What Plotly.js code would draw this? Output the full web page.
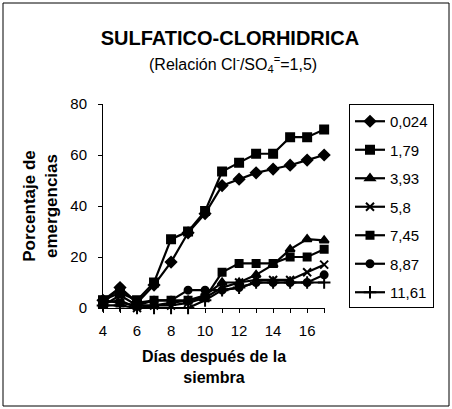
<!DOCTYPE html>
<html>
<head>
<meta charset="utf-8">
<script src="https://cdn.plot.ly/plotly-3.0.1.min.js"></script>
<style>
html,body{margin:0;padding:0;background:#fff;}
#chart{width:452px;height:409px;}
</style>
</head>
<body>
<div id="chart"></div>
<script>
// ---- data ----
const days = [4,5,6,7,8,9,10,11,12,13,14,15,16,17];
const seriesNames = ["0,024","1,79","3,93","5,8","7,45","8,87","11,61"];
const v0024 = [3,8,2,9,18,29.5,37,48,50.5,53,54.5,56,58,60];
const v179  = [3,6,3,10,27,30,38,53.5,57,60.5,60.5,67,67,70];
const v393  = [1,5,1,1,2,3,5,10,10,13,17,23,27,26.5];
const v58   = [2,3,0,1,1,2,4,8,10,11,11,11,14,17];
const v745  = [3,2,1,3,3,3,4,14,17.5,17.5,17.5,20,20,23];
const v887  = [2,8,2,3,3,7,7,7,8,10,10,10,10,13];
const v1161 = [1,1,0,0,0,0,3,7,8,10,10,10,10,10];
const yTicks = [0,20,40,60,80];
const xTicks = [4,6,8,10,12,14,16];

const allValues = [v0024,v179,v393,v58,v745,v887,v1161];
const symbols = ["diamond","square","triangle-up","x-thin","square","circle","cross-thin"];
const msizes = [8,8,8,8,7,7,9];

const FONT = "Arial, 'Liberation Sans', sans-serif";

const traces = allValues.map((vals,i)=>({
  x: days, y: vals, name: seriesNames[i], type:'scatter', mode:'lines+markers',
  legendgroup: 'g'+i,
  line:{color:'#000', width:2.2},
  marker:{symbol:symbols[i], size:msizes[i], color:'#000', line:{color:'#000', width:2}},
  cliponaxis:false
}));

// plot area in pixels: x 103..325, y 104..308
const W=452,H=409,L=103,R=325,T=104,B=308;
const px=(X)=>(X-L)/(R-L);
const py=(Y)=>(B-Y)/(B-T);

const layout = {
  width:W, height:H,
  margin:{l:L, r:W-R, t:T, b:H-B, pad:0},
  paper_bgcolor:'#fff', plot_bgcolor:'#fff',
  font:{family:FONT, color:'#000', size:15},
  showlegend:true,
  title:{text:'<b>SULFATICO-CLORHIDRICA</b>', font:{family:FONT, size:20, color:'#000'},
         x:230/W, xanchor:'center', xref:'container', y:1-38/H, yanchor:'middle', yref:'container'},
  xaxis:{range:[4,17.05], tickvals:xTicks, ticks:'outside', ticklen:4, tickcolor:'#000',
         showline:true, linecolor:'#000', linewidth:1, showgrid:false, zeroline:false,
         minor:{dtick:1, tick0:4, ticks:'outside', ticklen:4, tickcolor:'#000'},
         tickfont:{size:15, family:FONT}, ticklabelstandoff:5, fixedrange:true,
         title:{text:'<b>Días después de la<br>siembra</b>', font:{size:16, family:FONT}, standoff:12}},
  yaxis:{range:[0,80], tickvals:yTicks, ticks:'outside', ticklen:4, tickcolor:'#000',
         showline:true, linecolor:'#000', linewidth:1, showgrid:false, zeroline:false,
         tickfont:{size:15, family:FONT}, ticklabelstandoff:8, fixedrange:true,
         title:{text:'<b>Porcentaje de<br>emergencias</b>', font:{size:17, family:FONT}, standoff:8}},
  legend:{x:px(349), xanchor:'left', y:py(104), yanchor:'top',
          bordercolor:'#000', borderwidth:1, bgcolor:'#fff',
          font:{size:15, family:FONT}, tracegroupgap:6, itemwidth:30,
          entrywidth:57, entrywidthmode:'pixels',
          traceorder:'grouped'},
  annotations:[
    {text:'(Relación Cl<sup>-</sup>/SO<sub>4</sub><sup>=</sup>=1,5)', xref:'paper', yref:'paper',
     x:px(233), y:py(64), xanchor:'center', yanchor:'middle', showarrow:false,
     font:{size:16, family:FONT, color:'#000'}}
  ],
  shapes:[
    {type:'rect', xref:'paper', yref:'paper', x0:px(3), x1:px(449), y0:py(406), y1:py(3),
     line:{color:'#000', width:1}, fillcolor:'rgba(0,0,0,0)', layer:'below'}
  ]
};

Plotly.newPlot('chart', traces, layout, {displayModeBar:false, staticPlot:true});
</script>
</body>
</html>
